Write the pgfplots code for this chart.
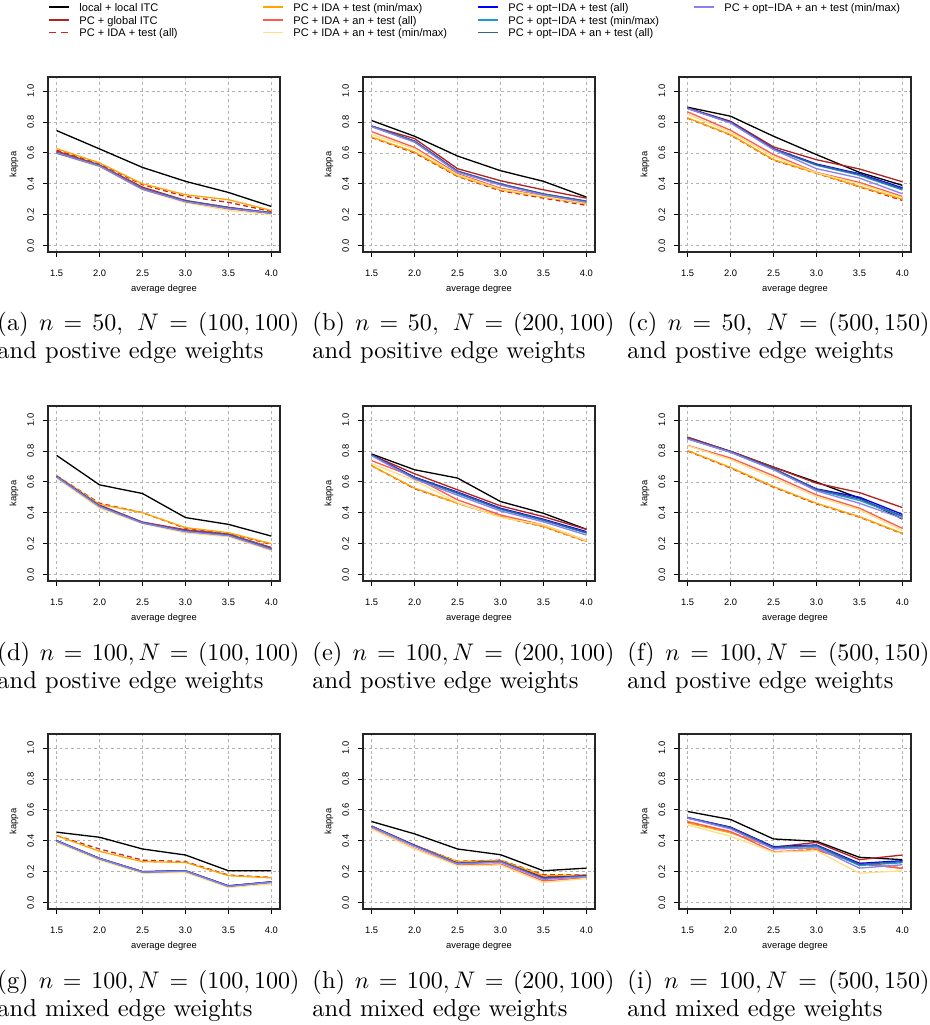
\documentclass[border=0pt]{standalone}
\usepackage{fontspec}
\usepackage{pgfplots}
\pgfplotsset{compat=1.18}
\usepackage{pgfplotstable}
\newfontfamily\rsans{Liberation Sans}
\def\pxs{0.416667pt}
\newcommand\axfont{\rsans\fontsize{3.9}{4.5}\selectfont}
\newcommand\legfont{\rsans\fontsize{4.6}{5.5}\selectfont}
\definecolor{c1}{HTML}{000000}
\definecolor{c2}{HTML}{B22222}
\definecolor{c3}{HTML}{CD2626}
\definecolor{c4}{HTML}{FFA500}
\definecolor{c5}{HTML}{FF5A50}
\definecolor{c6}{HTML}{FFE082}
\definecolor{c7}{HTML}{0000FF}
\definecolor{c8}{HTML}{199BD6}
\definecolor{c9}{HTML}{3A5F8F}
\definecolor{c10}{HTML}{8A80EE}

\pgfplotstableread{
x s1 s2 s3 s4 s5 s6 s7 s8 s9 s10
1.5 0.745 0.612 0.618 0.628 0.605 0.595 0.600 0.602 0.603 0.600
2.0 0.626 0.522 0.530 0.535 0.518 0.510 0.517 0.518 0.519 0.515
2.5 0.506 0.378 0.394 0.400 0.370 0.360 0.366 0.368 0.369 0.365
3.0 0.416 0.292 0.318 0.329 0.285 0.278 0.286 0.288 0.289 0.284
3.5 0.344 0.248 0.280 0.297 0.238 0.228 0.242 0.244 0.245 0.240
4.0 0.253 0.212 0.221 0.227 0.208 0.200 0.212 0.210 0.211 0.209
}\tabA
\pgfplotstableread{
x s1 s2 s3 s4 s5 s6 s7 s8 s9 s10
1.5 0.810 0.773 0.700 0.703 0.738 0.720 0.773 0.772 0.775 0.770
2.0 0.708 0.693 0.600 0.606 0.636 0.626 0.675 0.672 0.678 0.670
2.5 0.580 0.498 0.448 0.452 0.465 0.459 0.480 0.478 0.483 0.475
3.0 0.485 0.420 0.355 0.361 0.372 0.366 0.398 0.395 0.400 0.392
3.5 0.416 0.361 0.307 0.314 0.322 0.318 0.333 0.330 0.335 0.328
4.0 0.314 0.307 0.260 0.270 0.279 0.275 0.286 0.283 0.288 0.280
}\tabB
\pgfplotstableread{
x s1 s2 s3 s4 s5 s6 s7 s8 s9 s10
1.5 0.896 0.892 0.825 0.827 0.866 0.850 0.890 0.888 0.889 0.887
2.0 0.838 0.805 0.716 0.719 0.747 0.735 0.800 0.797 0.798 0.794
2.5 0.708 0.639 0.553 0.556 0.589 0.575 0.628 0.625 0.626 0.621
3.0 0.589 0.556 0.468 0.470 0.474 0.472 0.528 0.520 0.524 0.498
3.5 0.474 0.496 0.380 0.383 0.409 0.400 0.465 0.455 0.460 0.437
4.0 0.390 0.413 0.292 0.300 0.318 0.310 0.374 0.360 0.367 0.335
}\tabC
\pgfplotstableread{
x s1 s2 s3 s4 s5 s6 s7 s8 s9 s10
1.5 0.772 0.636 0.640 0.640 0.636 0.625 0.636 0.634 0.635 0.632
2.0 0.581 0.450 0.462 0.455 0.445 0.430 0.445 0.442 0.444 0.440
2.5 0.525 0.340 0.401 0.401 0.338 0.330 0.336 0.335 0.336 0.333
3.0 0.369 0.290 0.300 0.304 0.284 0.270 0.282 0.280 0.282 0.278
3.5 0.325 0.262 0.268 0.271 0.260 0.245 0.258 0.255 0.258 0.252
4.0 0.249 0.175 0.195 0.200 0.169 0.155 0.165 0.165 0.168 0.162
}\tabD
\pgfplotstableread{
x s1 s2 s3 s4 s5 s6 s7 s8 s9 s10
1.5 0.781 0.774 0.705 0.705 0.738 0.718 0.774 0.772 0.773 0.770
2.0 0.679 0.653 0.556 0.560 0.631 0.610 0.631 0.626 0.628 0.618
2.5 0.625 0.549 0.462 0.462 0.484 0.466 0.534 0.525 0.530 0.514
3.0 0.473 0.445 0.375 0.375 0.386 0.371 0.430 0.422 0.426 0.412
3.5 0.397 0.375 0.310 0.312 0.321 0.321 0.358 0.350 0.354 0.341
4.0 0.293 0.293 0.213 0.215 0.219 0.219 0.278 0.268 0.272 0.256
}\tabE
\pgfplotstableread{
x s1 s2 s3 s4 s5 s6 s7 s8 s9 s10
1.5 0.889 0.889 0.800 0.803 0.837 0.835 0.881 0.880 0.882 0.879
2.0 0.798 0.798 0.690 0.694 0.755 0.745 0.794 0.793 0.795 0.792
2.5 0.696 0.696 0.566 0.570 0.640 0.625 0.685 0.682 0.688 0.679
3.0 0.599 0.592 0.458 0.462 0.516 0.505 0.555 0.548 0.552 0.542
3.5 0.495 0.531 0.372 0.375 0.430 0.420 0.501 0.480 0.490 0.462
4.0 0.360 0.434 0.264 0.267 0.299 0.285 0.390 0.375 0.380 0.364
}\tabF
\pgfplotstableread{
x s1 s2 s3 s4 s5 s6 s7 s8 s9 s10
1.5 0.456 0.401 0.434 0.434 0.398 0.390 0.401 0.399 0.400 0.398
2.0 0.423 0.286 0.347 0.332 0.282 0.275 0.286 0.284 0.285 0.283
2.5 0.347 0.200 0.275 0.265 0.196 0.190 0.200 0.198 0.199 0.197
3.0 0.308 0.206 0.265 0.260 0.203 0.195 0.206 0.204 0.205 0.203
3.5 0.206 0.108 0.178 0.174 0.104 0.098 0.108 0.106 0.107 0.105
4.0 0.206 0.134 0.163 0.160 0.130 0.120 0.134 0.132 0.133 0.131
}\tabG
\pgfplotstableread{
x s1 s2 s3 s4 s5 s6 s7 s8 s9 s10
1.5 0.525 0.495 0.492 0.490 0.480 0.477 0.495 0.493 0.494 0.490
2.0 0.445 0.372 0.369 0.367 0.350 0.347 0.369 0.367 0.368 0.364
2.5 0.347 0.262 0.267 0.265 0.243 0.239 0.254 0.252 0.253 0.250
3.0 0.310 0.272 0.275 0.273 0.250 0.243 0.267 0.265 0.266 0.262
3.5 0.206 0.165 0.180 0.175 0.140 0.130 0.158 0.155 0.157 0.150
4.0 0.223 0.176 0.180 0.178 0.160 0.156 0.174 0.170 0.172 0.168
}\tabH
\pgfplotstableread{
x s1 s2 s3 s4 s5 s6 s7 s8 s9 s10
1.5 0.590 0.547 0.520 0.516 0.525 0.503 0.551 0.548 0.550 0.547
2.0 0.538 0.488 0.455 0.452 0.460 0.430 0.488 0.482 0.485 0.477
2.5 0.412 0.358 0.355 0.358 0.330 0.326 0.362 0.352 0.357 0.347
3.0 0.397 0.390 0.345 0.347 0.340 0.336 0.373 0.365 0.370 0.356
3.5 0.293 0.278 0.250 0.256 0.254 0.190 0.254 0.240 0.247 0.223
4.0 0.278 0.308 0.225 0.221 0.221 0.206 0.271 0.258 0.265 0.245
}\tabI

\pgfplotsset{
  panel/.style={
    scale only axis, width=96.67pt, height=72.92pt, anchor=south west,
    xmin=1.4, xmax=4.1, ymin=-0.042, ymax=1.092,
    xtick={1.5,2,2.5,3,3.5,4}, ytick={0,0.2,0.4,0.6,0.8,1},
    tick pos=left, tick align=outside, major tick length=2pt,
    every tick/.style={black, line width=0.4pt},
    grid=major,
    major grid style={gray!60, dash pattern=on 1.2pt off 1.2pt, line width=0.35pt},
    axis line style={line width=0.45pt, black!85},
    tick label style={font=\axfont},
    /pgf/number format/assume math mode=true,
    xticklabel style={/pgf/number format/fixed, /pgf/number format/fixed zerofill, /pgf/number format/precision=1, anchor=north, inner sep=0pt},
    yticklabel style={/pgf/number format/fixed, /pgf/number format/fixed zerofill, /pgf/number format/precision=1, rotate=90, anchor=south, inner sep=0pt},
    xticklabel shift=5.3pt, yticklabel shift=3.6pt,
    xlabel={average degree}, ylabel={kappa},
    label style={font=\axfont},
    xlabel style={at={(axis description cs:0.5,-0.211)}, anchor=center},
    ylabel style={at={(axis description cs:-0.147,0.5)}, anchor=center},
    no marks,
    every axis plot/.append style={line width=0.55pt},
  }
}

\newcommand\panel[3]{%
\begin{axis}[panel, at={({#1*\pxs},{-#2*\pxs})}]
\addplot[c1] table[x=x,y=s1]{#3};
\addplot[c2] table[x=x,y=s2]{#3};
\addplot[c3, dash pattern=on 2pt off 1.4pt] table[x=x,y=s3]{#3};
\addplot[c4] table[x=x,y=s4]{#3};
\addplot[c5] table[x=x,y=s5]{#3};
\addplot[c6] table[x=x,y=s6]{#3};
\addplot[c7] table[x=x,y=s7]{#3};
\addplot[c8] table[x=x,y=s8]{#3};
\addplot[c9] table[x=x,y=s9]{#3};
\addplot[c10] table[x=x,y=s10]{#3};
\end{axis}}

\newcommand\leg[5]{% x-line-start, x-line-end, y-center, style, text
\draw[#4, line width=0.75pt] ({#1*\pxs},{-#3*\pxs}) -- ({#2*\pxs},{-#3*\pxs});
\node[anchor=base west, inner sep=0pt, font=\legfont] at ({(#2+10)*\pxs},{-(#3+4)*\pxs}) {#5};}

\newcommand\capt[4]{% x, baseline y, line1, line2
\node[anchor=base west, inner sep=0pt] at ({#1*\pxs},{-#2*\pxs})
  {\parbox[t]{125.8pt}{\fontsize{10.2}{11.9}\selectfont #3\linebreak #4}};}

\begin{document}
\begin{tikzpicture}
\useasboundingbox (0pt,0pt) rectangle (387.5pt,-427.083pt);
% legend
\leg{49}{69}{7}{c1}{local + local ITC}
\leg{49}{69}{20}{c2}{PC + global ITC}
\leg{49}{69}{32.5}{c3, dash pattern=on 2.9pt off 2.1pt}{PC + IDA + test (all)}
\leg{263}{283}{7}{c4}{PC + IDA + test (min/max)}
\leg{263}{283}{20}{c5}{PC + IDA + an + test (all)}
\leg{263}{283}{32.5}{c6}{PC + IDA + an + test (min/max)}
\leg{478}{498}{7}{c7}{PC + opt−IDA + test (all)}
\leg{478}{498}{20}{c8}{PC + opt−IDA + test (min/max)}
\leg{478}{498}{32.5}{c9}{PC + opt−IDA + an + test (all)}
\leg{694}{714}{7}{c10}{PC + opt−IDA + an + test (min/max)}
% panels
\panel{48}{252}{\tabA}
\panel{363}{252}{\tabB}
\panel{679}{252}{\tabC}
\panel{48}{581}{\tabD}
\panel{363}{581}{\tabE}
\panel{679}{581}{\tabF}
\panel{48}{909}{\tabG}
\panel{363}{909}{\tabH}
\panel{679}{909}{\tabI}
% captions
\capt{-3}{330}{(a) $n = 50,\ N = (100, 100)$}{and postive edge weights}
\capt{312}{330}{(b) $n = 50,\ N = (200, 100)$}{and positive edge weights}
\capt{627}{330}{(c) $n = 50,\ N = (500, 150)$}{and postive edge weights}
\capt{-3}{660}{(d) $n = 100, N = (100, 100)$}{and postive edge weights}
\capt{312}{660}{(e) $n = 100, N = (200, 100)$}{and postive edge weights}
\capt{627}{660}{(f) $n = 100, N = (500, 150)$}{and postive edge weights}
\capt{-3}{988}{(g) $n = 100, N = (100, 100)$}{and mixed edge weights}
\capt{312}{988}{(h) $n = 100, N = (200, 100)$}{and mixed edge weights}
\capt{627}{988}{(i) $n = 100, N = (500, 150)$}{and mixed edge weights}
\end{tikzpicture}
\end{document}
